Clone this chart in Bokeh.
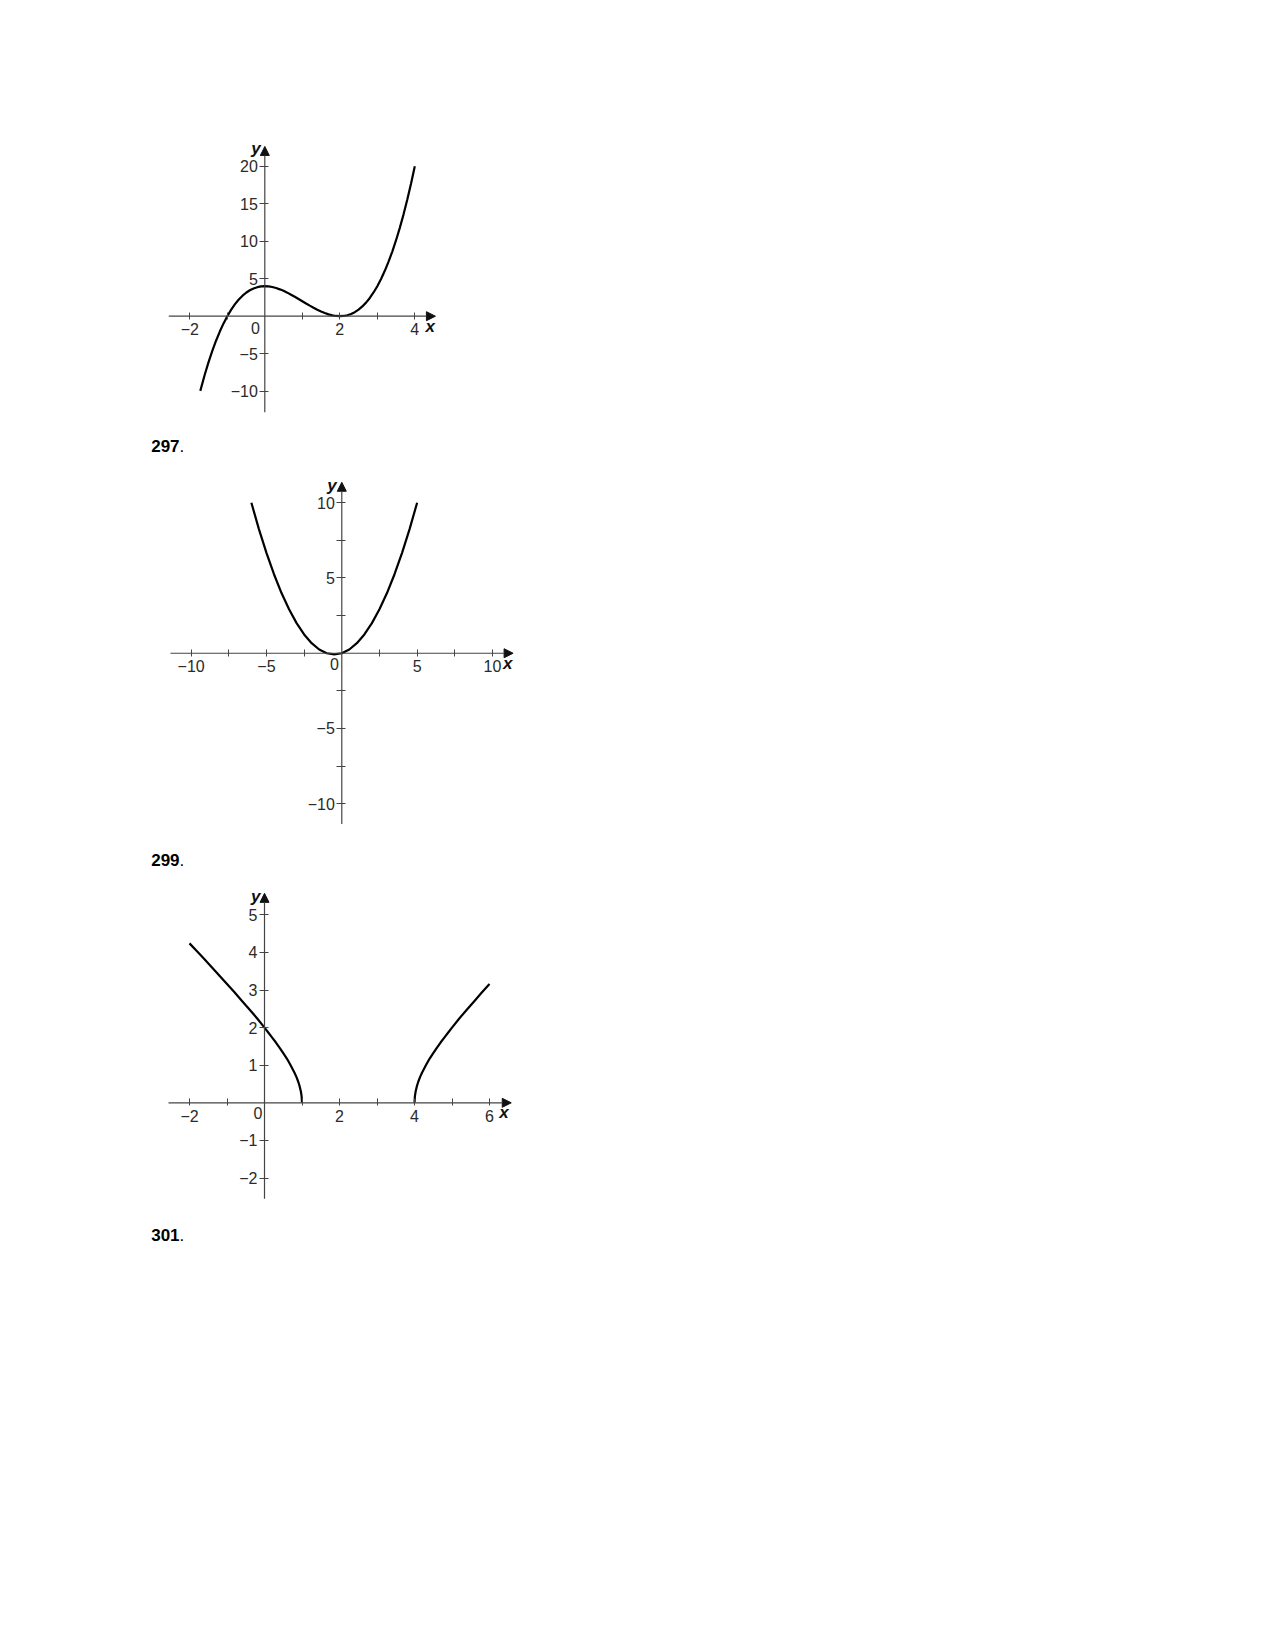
from bokeh.plotting import figure
from bokeh.layouts import column
from bokeh.models import LinearAxis, FixedTicker, Arrow, NormalHead, Label, Range1d
from bokeh.embed import file_html
from bokeh.resources import INLINE

FONT = "Liberation Sans"

# ---------------- data ----------------
# Exercise 296 graph (cubic)
c1_x = [-1.72, -1.6, -1.5, -1.4, -1.3, -1.2, -1.1, -1.0, -0.9, -0.8, -0.7, -0.6, -0.5, -0.4,
        -0.3, -0.2, -0.1, 0.0, 0.1, 0.2, 0.3, 0.4, 0.5, 0.6, 0.7, 0.8, 0.9, 1.0, 1.1, 1.2,
        1.3, 1.4, 1.5, 1.6, 1.7, 1.8, 1.9, 2.0, 2.1, 2.2, 2.3, 2.4, 2.5, 2.6, 2.7, 2.8, 2.9,
        3.0, 3.1, 3.2, 3.3, 3.4, 3.5, 3.6, 3.7, 3.8, 3.9, 4.0]
c1_y = [-9.96, -7.78, -6.13, -4.62, -3.27, -2.05, -0.96, 0.0, 0.84, 1.57, 2.19, 2.70, 3.13, 3.46,
        3.70, 3.87, 3.97, 4.0, 3.97, 3.89, 3.76, 3.58, 3.38, 3.14, 2.87, 2.59, 2.30, 2.0, 1.70, 1.41,
        1.13, 0.86, 0.63, 0.42, 0.24, 0.11, 0.03, 0.0, 0.03, 0.13, 0.30, 0.54, 0.88, 1.30, 1.81, 2.43, 3.16,
        4.0, 4.96, 6.05, 7.27, 8.62, 10.13, 11.78, 13.58, 15.55, 17.69, 20.0]
c1_xticks = [-2, 2, 4]
c1_xminor = [-1, 1, 3]
c1_yticks = [-10, -5, 5, 10, 15, 20]
c1_yminor = []

# Exercise 297 graph (parabola)
c2_x = [-6.0, -5.5, -5.0, -4.5, -4.0, -3.5, -3.0, -2.5, -2.0, -1.5, -1.0, -0.5, 0.0,
        0.5, 1.0, 1.5, 2.0, 2.5, 3.0, 3.5, 4.0, 4.5, 5.0]
c2_y = [10.0, 8.25, 6.67, 5.25, 4.0, 2.92, 2.0, 1.25, 0.67, 0.25, 0.0, -0.08, 0.0,
        0.25, 0.67, 1.25, 2.0, 2.92, 4.0, 5.25, 6.67, 8.25, 10.0]
c2_xticks = [-10, -5, 5, 10]
c2_xminor = [-7.5, -2.5, 2.5, 7.5]
c2_yticks = [-10, -5, 5, 10]
c2_yminor = [-7.5, -2.5, 2.5, 7.5]

# Exercise 299 graph (two branches)
c3a_x = [-2.0, -1.8, -1.6, -1.4, -1.2, -1.0, -0.8, -0.6, -0.4, -0.2, 0.0, 0.1, 0.2, 0.3,
         0.4, 0.5, 0.6, 0.7, 0.8, 0.85, 0.9, 0.94, 0.97, 0.99, 1.0]
c3a_y = [4.24, 4.03, 3.82, 3.60, 3.38, 3.16, 2.94, 2.71, 2.48, 2.25, 2.0, 1.87, 1.74, 1.61,
         1.47, 1.32, 1.17, 0.99, 0.80, 0.69, 0.56, 0.43, 0.30, 0.17, 0.0]
c3b_x = [4.0, 4.01, 4.03, 4.06, 4.1, 4.15, 4.2, 4.3, 4.4, 4.5, 4.6, 4.7, 4.8, 4.9, 5.0,
         5.2, 5.4, 5.6, 5.8, 6.0]
c3b_y = [0.0, 0.17, 0.30, 0.43, 0.56, 0.69, 0.80, 0.99, 1.17, 1.32, 1.47, 1.61, 1.74, 1.87, 2.0,
         2.25, 2.48, 2.71, 2.94, 3.16]
c3_xticks = [-2, 2, 4, 6]
c3_xminor = [-1, 1, 3, 5]
c3_yticks = [-2, -1, 1, 2, 3, 4, 5]
c3_yminor = []

tags = ["297", "299", "301"]


def fmt(t):
    s = f"{t:g}"
    return s.replace("-", "\u2212")


def make_chart(height, xr, yr, xext, yext, xticks, xminor, yticks, yminor, curves,
               zero_off, xlab_off, ylab_off):
    p = figure(width=600, height=height, x_range=Range1d(*xr), y_range=Range1d(*yr),
               x_axis_location=None, y_axis_location=None, toolbar_location=None,
               output_backend="svg", min_border=0, outline_line_color=None,
               background_fill_color="white", border_fill_color="white")
    p.grid.grid_line_color = None

    common = dict(axis_line_color=None,
                  major_tick_line_color="#444", minor_tick_line_color="#444",
                  major_label_text_font=FONT, major_label_text_font_size="16px",
                  major_label_text_color="#2a2a2a")
    xa = LinearAxis(fixed_location=0,
                    ticker=FixedTicker(ticks=xticks, minor_ticks=xminor),
                    major_tick_in=4, major_tick_out=3, minor_tick_in=4, minor_tick_out=3,
                    major_label_standoff=4,
                    major_label_overrides={t: fmt(t) for t in xticks}, **common)
    ya = LinearAxis(fixed_location=0,
                    ticker=FixedTicker(ticks=yticks, minor_ticks=yminor),
                    major_tick_in=4, major_tick_out=5, minor_tick_in=4, minor_tick_out=5,
                    major_label_standoff=2,
                    major_label_overrides={t: fmt(t) for t in yticks}, **common)
    p.add_layout(xa, "below")
    p.add_layout(ya, "left")

    p.add_layout(Arrow(x_start=xext[0], y_start=0, x_end=xext[1], y_end=0,
                       line_color="#444", line_width=1.2,
                       end=NormalHead(size=9, fill_color="#111", line_color="#111")))
    p.add_layout(Arrow(x_start=0, y_start=yext[0], x_end=0, y_end=yext[1],
                       line_color="#444", line_width=1.2,
                       end=NormalHead(size=9, fill_color="#111", line_color="#111")))

    for cx, cy in curves:
        p.line(cx, cy, line_color="black", line_width=2.2)

    p.add_layout(Label(x=0, y=0, text="0", x_offset=zero_off[0], y_offset=zero_off[1],
                       text_align="right", text_baseline="top", text_font=FONT,
                       text_font_size="16px", text_color="#2a2a2a"))
    p.add_layout(Label(x=xext[1], y=0, text="x", x_offset=xlab_off[0], y_offset=xlab_off[1],
                       text_align="left", text_baseline="alphabetic", text_font=FONT,
                       text_font_style="bold italic", text_font_size="17px", text_color="#111"))
    p.add_layout(Label(x=0, y=yext[1], text="y", x_offset=ylab_off[0], y_offset=ylab_off[1],
                       text_align="right", text_baseline="alphabetic", text_font=FONT,
                       text_font_style="bold italic", text_font_size="17px", text_color="#111"))
    return p


def add_tag(p, tag, sx, from_top):
    y = p.height - from_top
    p.add_layout(Label(x=sx, y=y, x_units="screen", y_units="screen", text=tag,
                       text_align="left", text_baseline="alphabetic", text_font=FONT,
                       text_font_style="bold", text_font_size="17px", text_color="black"))
    p.add_layout(Label(x=sx + 3 * 0.556 * 17, y=y, x_units="screen", y_units="screen",
                       text=".", text_align="left", text_baseline="alphabetic",
                       text_font=FONT, text_font_size="17px", text_color="black"))


p1 = make_chart(430, (-7.048, 8.952), (-15.24, 42.09), (-2.56, 4.55), (-12.8, 22.63),
                c1_xticks, c1_xminor, c1_yticks, c1_yminor, [(c1_x, c1_y)],
                (-5, -6), (-10, -10), (-4, -2))
p2 = make_chart(405, (-22.65, 17.17), (-12.11, 14.80), (-11.37, 11.37), (-11.34, 11.36),
                c2_xticks, c2_xminor, c2_yticks, c2_yminor, [(c2_x, c2_y)],
                (-3, -5), (-10, -10), (-5, -3))
p3 = make_chart(425, (-7.04, 8.96), (-4.194, 7.109), (-2.56, 6.58), (-2.55, 5.57),
                c3_xticks, c3_xminor, c3_yticks, c3_yminor, [(c3a_x, c3a_y), (c3b_x, c3b_y)],
                (-2, -4), (-12, -10), (-4, -3))

add_tag(p2, tags[0], 150.7, 15.2)
add_tag(p3, tags[1], 150.7, 24.0)
add_tag(p3, tags[2], 150.7, 399.5)

layout = column(p1, p2, p3, spacing=0)
open("out.html", "w").write(file_html(layout, INLINE))
